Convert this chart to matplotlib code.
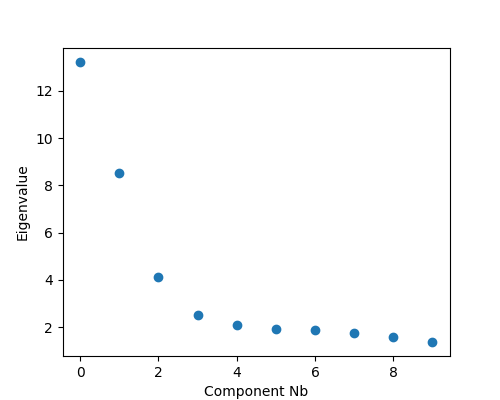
import matplotlib
matplotlib.use("Agg")
import matplotlib.pyplot as plt

components = list(range(10))
eigenvalues = [13.22, 8.53, 4.14, 2.51, 2.09, 1.93, 1.88, 1.76, 1.59, 1.37]

fig, ax = plt.subplots(figsize=(5, 4), dpi=100)
ax.scatter(components, eigenvalues)
ax.set_xlabel("Component Nb")
ax.set_ylabel("Eigenvalue")
fig.savefig("out.png")
